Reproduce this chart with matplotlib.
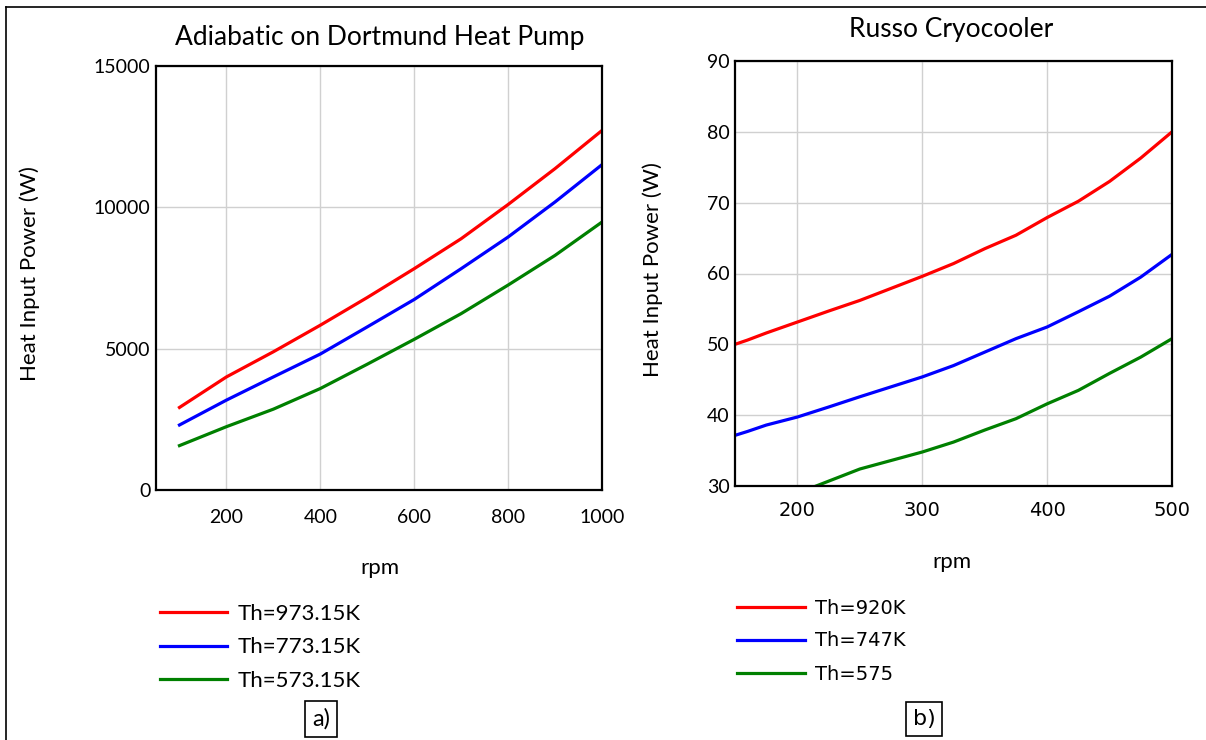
import matplotlib
matplotlib.use("Agg")
import matplotlib.pyplot as plt
from matplotlib.lines import Line2D

# a) Adiabatic on Dortmund heat pump
rpm_a = [100, 200, 300, 400, 500, 600, 700, 800, 900, 1000]
q_973 = [2920, 4000, 4890, 5830, 6810, 7830, 8890, 10100, 11370, 12720]
q_773 = [2300, 3180, 4000, 4810, 5770, 6740, 7830, 8950, 10190, 11510]
q_573 = [1570, 2240, 2860, 3590, 4450, 5330, 6240, 7250, 8300, 9480]

# b) Russo cryocooler
rpm_b = [150, 160, 175, 200, 225, 250, 275, 300, 325, 350, 375, 400, 425, 450, 475, 500]
q_920 = [50.0, 50.6, 51.6, 53.15, 54.7, 56.2, 57.9, 59.6, 61.4, 63.5, 65.4, 67.9, 70.2, 73.0, 76.3, 80.0]
q_747 = [37.15, 37.7, 38.6, 39.74, 41.15, 42.6, 44.0, 45.4, 47.0, 48.9, 50.8, 52.45, 54.6, 56.8, 59.5, 62.7]
rpm_b575 = [215, 250, 275, 300, 325, 350, 375, 400, 425, 450, 475, 500]
q_575 = [30.0, 32.4, 33.6, 34.8, 36.2, 37.9, 39.5, 41.6, 43.5, 45.9, 48.2, 50.8]

W, H = 1206, 740
fig = plt.figure(figsize=(W / 100, H / 100), dpi=100)

def box(l, r, t, b):
    return [l / W, 1 - b / H, (r - l) / W, (b - t) / H]

def ftext(x, y, s, **kw):
    return fig.text(x / W, 1 - y / H, s, ha='center', va='center', **kw)

font_a = ['Lato', 'DejaVu Sans']
font_b = ['DejaVu Sans']

def style(ax, fam, xfam, xpad):
    ax.grid(True, color='#d0d0d0', linewidth=1)
    ax.set_axisbelow(True)
    for s in ax.spines.values():
        s.set_linewidth(1.6)
        s.set_color('black')
    ax.tick_params(length=0, labelsize=14)
    ax.tick_params(axis='x', pad=xpad)
    ax.tick_params(axis='y', pad=4)
    for t in ax.get_yticklabels():
        t.set_family(fam)
    for t in ax.get_xticklabels():
        t.set_family(xfam)

ax1 = fig.add_axes(box(156, 602, 66, 490))
ax1.plot(rpm_a, q_973, color='#ff0000', lw=2.3, label='Th=973.15K')
ax1.plot(rpm_a, q_773, color='#0000ff', lw=2.3, label='Th=773.15K')
ax1.plot(rpm_a, q_573, color='#008000', lw=2.3, label='Th=573.15K')
ax1.set_xlim(50, 1000)
ax1.set_ylim(0, 15000)
ax1.set_xticks([200, 400, 600, 800, 1000])
ax1.set_yticks([0, 5000, 10000, 15000])
style(ax1, font_a, font_a, 14)
ax1.legend(loc='upper left', bbox_to_anchor=(140 / W, 1 - 584 / H),
           bbox_transform=fig.transFigure, frameon=False, handlelength=3.0,
           handletextpad=0.5, labelspacing=0.6, prop={'family': font_a, 'size': 16})

ax2 = fig.add_axes(box(735, 1172, 61, 486))
ax2.plot(rpm_b, q_920, color='#ff0000', lw=2.3, label='Th=920K')
ax2.plot(rpm_b, q_747, color='#0000ff', lw=2.3, label='Th=747K')
ax2.plot(rpm_b575, q_575, color='#008000', lw=2.3, label='Th=575')
ax2.set_xlim(150, 500)
ax2.set_ylim(30, 90)
ax2.set_xticks([200, 300, 400, 500])
ax2.set_yticks([30, 40, 50, 60, 70, 80, 90])
style(ax2, font_a, font_b, 11)
ax2.legend(loc='upper left', bbox_to_anchor=(720 / W, 1 - 581 / H),
           bbox_transform=fig.transFigure, frameon=False, handlelength=3.45,
           handletextpad=0.55, labelspacing=0.72, prop={'family': font_b, 'size': 14})

# titles and axis labels
ftext(380, 37, 'Adiabatic on Dortmund Heat Pump', family=font_a, fontsize=19)
ftext(951, 30, 'Russo Cryocooler', family=font_a, fontsize=19)
ftext(380, 568, 'rpm', family=font_a, fontsize=16)
ftext(952, 562, 'rpm', family=font_a, fontsize=16)
ftext(30, 274, 'Heat Input Power (W)', family=font_a, fontsize=16, rotation=90)
ftext(653, 270, 'Heat Input Power (W)', family=font_a, fontsize=16, rotation=90)

# panel tags
ftext(321, 719, 'a)', family=font_a, fontsize=17,
      bbox=dict(boxstyle='square,pad=0.3', fc='white', ec='black', lw=1.2))
ftext(924, 719, 'b)', family=font_b, fontsize=16,
      bbox=dict(boxstyle='square,pad=0.3', fc='white', ec='black', lw=1.2))

# outer frame (top and left edges only)
fig.add_artist(Line2D([6 / W, 1], [1 - 7 / H, 1 - 7 / H], transform=fig.transFigure, color='black', lw=1.2))
fig.add_artist(Line2D([6 / W, 6 / W], [0, 1 - 7 / H], transform=fig.transFigure, color='black', lw=1.2))

fig.savefig('out.png', dpi=100, facecolor='white')
